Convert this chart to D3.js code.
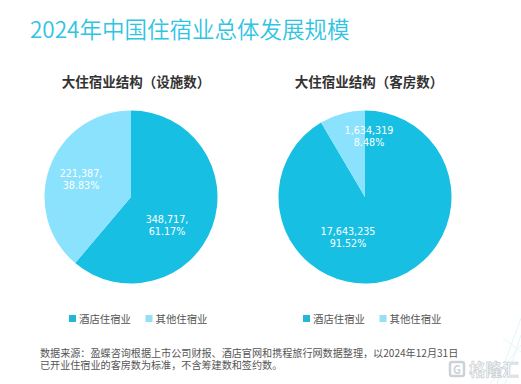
<!DOCTYPE html>
<html><head><meta charset="utf-8">
<script src="https://cdn.jsdelivr.net/npm/d3@7"></script>
<style>html,body{margin:0;padding:0;background:#fff}svg{display:block}</style></head>
<body><svg id="c" width="521" height="384"></svg>
<script>
const categories=["酒店住宿业","其他住宿业"];
const facilityValues=[348717,221387];
const facilityPct=["61.17%","38.83%"];
const roomValues=[17643235,1634319];
const roomPct=["91.52%","8.48%"];
const chartTitles=["大住宿业结构（设施数）","大住宿业结构（客房数）"];
const mainTitle="2024年中国住宿业总体发展规模";
const sourceLines=["数据来源：盈蝶咨询根据上市公司财报、酒店官网和携程旅行网数据整理，以2024年12月31日","已开业住宿业的客房数为标准，不含筹建数和签约数。"];
const colors=["#17bfe3","#8be2fd"];
const cjk='"Noto Sans CJK SC","Noto Sans",sans-serif';
const svg=d3.select("#c");
// faint background decoration, bottom right
[[521,318,497,384],[521,335,505,384],[503,338,521,352],[490,384,521,345]].forEach(l=>{
 svg.append("line").attr("x1",l[0]).attr("y1",l[1]).attr("x2",l[2]).attr("y2",l[3]).attr("stroke","#e4f5f9").attr("stroke-width",1);
});
svg.append("text").attr("x",30).attr("y",38).attr("font-family",cjk).attr("font-size",22.5).attr("font-weight",350).attr("fill","#2fc4e4").text(mainTitle);
const pie=d3.pie().sort(null);
const R=86.5;
const arc=d3.arc().innerRadius(0).outerRadius(R);
const specs=[
 {cx:131,values:facilityValues,pct:facilityPct,title:chartTitles[0],tx:136,lab:[[36,26],[-50,-20]],legend:69},
 {cx:365,values:roomValues,pct:roomPct,title:chartTitles[1],tx:369,lab:[[-17,38],[4,-63]],legend:303}
];
specs.forEach(s=>{
 const g=svg.append("g").attr("transform",`translate(${s.cx},197)`);
 g.selectAll("path").data(pie(s.values)).join("path").attr("d",arc).attr("fill",(d,i)=>colors[i]);
 pie(s.values).forEach((d,i)=>{
  const t=g.append("text").attr("text-anchor","middle").attr("font-family",'"DejaVu Sans",sans-serif').attr("font-size",9.6).attr("fill","#fff");
  const suffix=s.values===facilityValues?",":"";
  t.append("tspan").attr("x",s.lab[i][0]).attr("y",s.lab[i][1]).text(d3.format(",")(s.values[i])+suffix);
  t.append("tspan").attr("x",s.lab[i][0]).attr("y",s.lab[i][1]+12).text(s.pct[i]);
 });
 svg.append("text").attr("x",s.tx).attr("y",87).attr("text-anchor","middle").attr("font-family",'"Noto Sans CJK SC",sans-serif').attr("font-weight",700).attr("font-size",13.5).attr("fill","#333").text(s.title);
 categories.forEach((c,i)=>{
  const x=s.legend+[0,76.5][i];
  svg.append("rect").attr("x",x).attr("y",315).attr("width",7).attr("height",7).attr("fill",i==0?"#25b5d6":"#96e0f5");
  svg.append("text").attr("x",x+10).attr("y",323).attr("font-family",cjk).attr("font-size",10.4).attr("fill","#555").text(c);
 });
});
sourceLines.forEach((l,i)=>svg.append("text").attr("x",40).attr("y",356.5+i*12).attr("font-family",cjk).attr("font-size",10.1).attr("fill","#555").text(l));
const wm=svg.append("g");
wm.append("rect").attr("x",450).attr("y",362).attr("width",14).attr("height",14).attr("rx",2).attr("fill","none").attr("stroke","#ccd2d5").attr("stroke-width",2.5);
wm.append("text").attr("x",457).attr("y",373.5).attr("text-anchor","middle").attr("font-family",cjk).attr("font-size",11).attr("font-weight",700).attr("fill","#ccd2d5").text("G");
wm.append("text").attr("x",469).attr("y",375.5).attr("font-family",cjk).attr("font-size",16.5).attr("font-weight",700).attr("fill","#fff").attr("stroke","#ccd2d5").attr("stroke-width",0.8).text("格隆汇");
</script></body></html>
